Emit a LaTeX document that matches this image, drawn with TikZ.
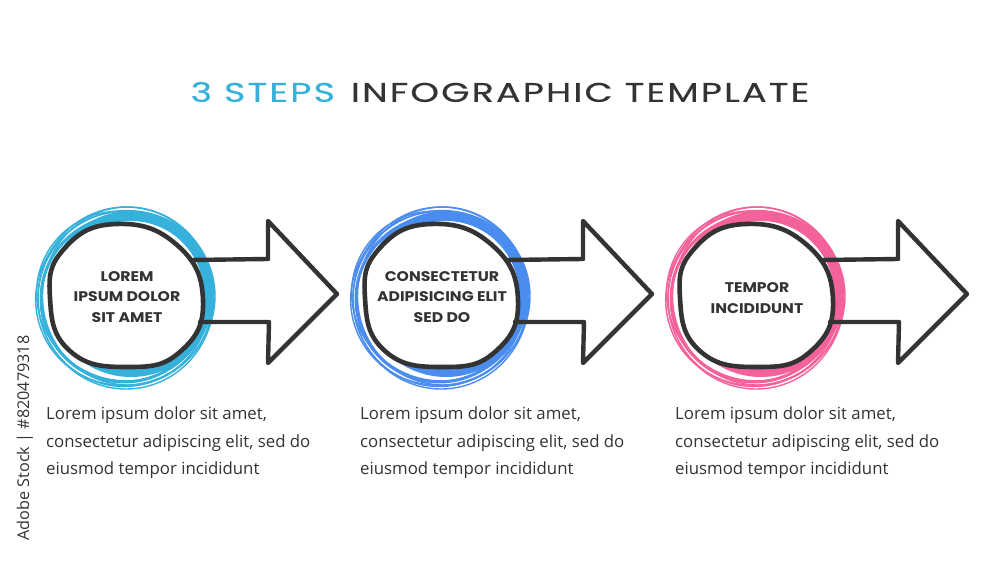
\documentclass[tikz,border=0pt]{standalone}
\usepackage{fontspec}
\setmainfont{Open Sans}
\newfontfamily\titlefont[FakeStretch=1.35, LetterSpace=8, FakeBold=0.4]{Poppins}
\newfontfamily\circfont[FakeStretch=1.12]{Poppins}
\definecolor{cyanc}{HTML}{35B1DB}
\definecolor{bluec}{HTML}{4B8DEE}
\definecolor{pinkc}{HTML}{F4629B}
\definecolor{darkc}{HTML}{333333}
\tikzset{
  blob/.style={draw=darkc, fill=white, line width=4.6pt, line join=round},
  arrowline/.style={draw=darkc, line width=4.4pt, line join=round, line cap=round},
  thinring/.style={line width=1.4pt},
  circtext/.style={align=center, text=darkc, inner sep=0pt,
    font=\circfont\bfseries\fontsize{14}{20.5}\selectfont},
  bodytext/.style={align=left, text=darkc, anchor=north west, inner sep=0pt,
    font=\fontsize{16.8}{27.5}\selectfont},
}
\newcommand\ringset[1]{%
  \draw[#1, line width=10pt] (131,294) circle (78);
  \draw[#1, line width=3pt] (124,299) circle (83);
  \draw[#1, thinring] (126,298) ellipse (88 and 91);
  \draw[#1, thinring] (124,299) ellipse (86 and 87.5);
  \draw[#1, thinring] (128,296) ellipse (85.5 and 89);
  \draw[#1, thinring, rotate around={20:(125,297)}] (125,298) ellipse (90 and 87);
  \draw[#1, thinring, rotate around={-30:(125,297)}] (123,297) ellipse (87.5 and 84);
}
\newcommand\blobandarrow{%
  \draw[blob] plot[smooth cycle, tension=0.8] coordinates {
    (116,224) (177,245) (203,300) (181,351) (128,367) (70,351) (50,298) (64,249)};
  \draw[arrowline] (191,260) -- (268,259) -- (268,221) -- (337,294)
     -- (268,363) -- (269,322) -- (200,322);
}
\begin{document}
\begin{tikzpicture}[x=1pt, y=-1pt]
\useasboundingbox (0,0) rectangle (1000,572);
\fill[white] (0,0) rectangle (1000,572);

\node[font=\titlefont\fontsize{27}{30}\selectfont, inner sep=0pt] (title) at (500,92)
  {\textcolor{cyanc}{3 STEPS}\hspace{16pt}\textcolor{darkc}{INFOGRAPHIC TEMPLATE}};

% step 1
\ringset{cyanc}
\blobandarrow
\node[circtext] (c1) at (127,297) {LOREM\\IPSUM DOLOR\\SIT AMET};
\node[bodytext] (t1) at (46,407) {Lorem ipsum dolor sit amet,\\consectetur adipiscing elit, sed do\\eiusmod tempor incididunt};

% step 2
\begin{scope}[shift={(315,0)}]
\ringset{bluec}
\blobandarrow
\node[circtext] (c2) at (127,297) {CONSECTETUR\\ADIPISICING ELIT\\SED DO};
\node[bodytext] (t2) at (45,407) {Lorem ipsum dolor sit amet,\\consectetur adipiscing elit, sed do\\eiusmod tempor incididunt};
\end{scope}

% step 3
\begin{scope}[shift={(630,0)}]
\ringset{pinkc}
\blobandarrow
\node[circtext] (c3) at (127,298) {TEMPOR\\INCIDIDUNT};
\node[bodytext] (t3) at (45,407) {Lorem ipsum dolor sit amet,\\consectetur adipiscing elit, sed do\\eiusmod tempor incididunt};
\end{scope}

\node[rotate=90, anchor=base, inner sep=0pt, text=darkc, font=\fontsize{16.2}{18}\selectfont] (wm) at (29,438) {Adobe Stock | \#820479318};
\end{tikzpicture}
\end{document}
